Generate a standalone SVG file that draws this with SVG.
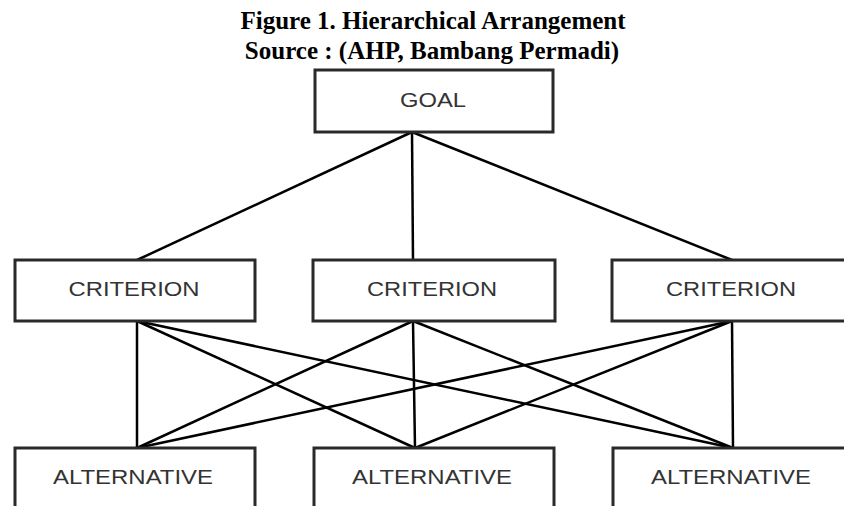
<svg xmlns="http://www.w3.org/2000/svg" width="844" height="506" viewBox="0 0 844 506">
<style>
.title{font-family:"Liberation Serif","Times New Roman",serif;font-weight:bold;font-size:25px;fill:#000;text-anchor:middle}
.box{fill:#fff;stroke:#2a2a2a;stroke-width:3}
.lbl{font-family:"Liberation Sans",Arial,sans-serif;font-size:20px;fill:#333;text-anchor:middle}
.conn line{stroke:#000;stroke-width:2.5}
</style>
<rect width="844" height="506" fill="#fff"/>
<text class="title" x="433" y="29">Figure 1. Hierarchical Arrangement</text>
<text class="title" x="432" y="59">Source : (AHP, Bambang Permadi)</text>
<g id="connectors" class="conn">
<line x1="412" y1="132" x2="137" y2="260"/>
<line x1="412" y1="132" x2="413" y2="260"/>
<line x1="412" y1="132" x2="732" y2="260"/>
<line x1="137" y1="321" x2="137" y2="448"/>
<line x1="137" y1="321" x2="415" y2="448"/>
<line x1="137" y1="321" x2="733" y2="448"/>
<line x1="413" y1="321" x2="137" y2="448"/>
<line x1="413" y1="321" x2="415" y2="448"/>
<line x1="413" y1="321" x2="733" y2="448"/>
<line x1="732" y1="321" x2="137" y2="448"/>
<line x1="732" y1="321" x2="415" y2="448"/>
<line x1="732" y1="321" x2="733" y2="448"/>
</g>
<g id="goal">
<rect class="box" x="315" y="70" width="238" height="62"/>
<text class="lbl" x="433" y="107" textLength="66" lengthAdjust="spacingAndGlyphs">GOAL</text>
</g>
<g id="criterion1">
<rect class="box" x="15" y="260" width="240" height="61"/>
<text class="lbl" x="134" y="296" textLength="131" lengthAdjust="spacingAndGlyphs">CRITERION</text>
</g>
<g id="criterion2">
<rect class="box" x="313" y="260" width="242" height="61"/>
<text class="lbl" x="432" y="296" textLength="130" lengthAdjust="spacingAndGlyphs">CRITERION</text>
</g>
<g id="criterion3">
<rect class="box" x="612" y="260" width="242" height="61"/>
<text class="lbl" x="731" y="296" textLength="130" lengthAdjust="spacingAndGlyphs">CRITERION</text>
</g>
<g id="alternative1">
<rect class="box" x="15" y="448" width="240" height="70"/>
<text class="lbl" x="133" y="484" textLength="160" lengthAdjust="spacingAndGlyphs">ALTERNATIVE</text>
</g>
<g id="alternative2">
<rect class="box" x="314" y="448" width="240" height="70"/>
<text class="lbl" x="432" y="484" textLength="160" lengthAdjust="spacingAndGlyphs">ALTERNATIVE</text>
</g>
<g id="alternative3">
<rect class="box" x="613" y="448" width="242" height="70"/>
<text class="lbl" x="731" y="484" textLength="160" lengthAdjust="spacingAndGlyphs">ALTERNATIVE</text>
</g>
</svg>
